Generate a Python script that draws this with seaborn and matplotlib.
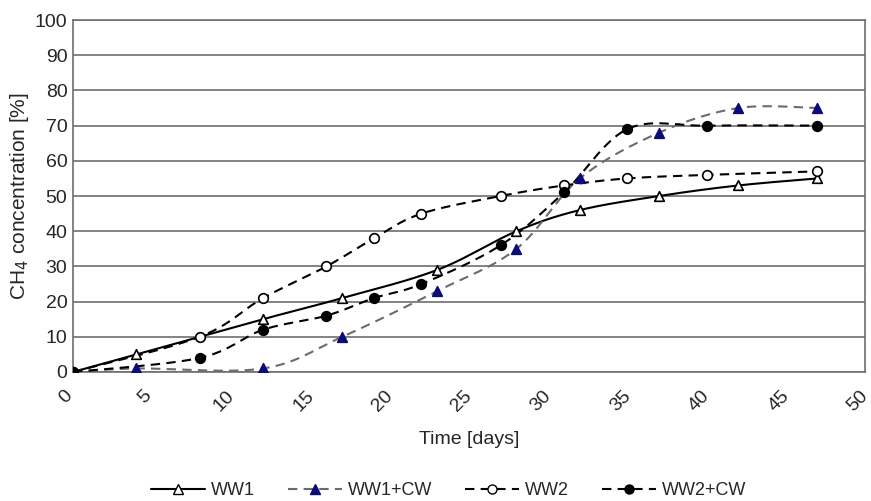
import numpy as np
import pandas as pd
import matplotlib
matplotlib.use("Agg")
import matplotlib.pyplot as plt
import matplotlib.transforms as mtransforms
from matplotlib.lines import Line2D
import seaborn as sns

# ---- data ----
ww1_days = [0, 4, 12, 17, 23, 28, 32, 37, 42, 47]
ww1_vals = [0, 5, 15, 21, 29, 40, 46, 50, 53, 55]

ww1cw_days = [0, 4, 12, 17, 23, 28, 32, 37, 42, 47]
ww1cw_vals = [0, 1, 1, 10, 23, 35, 55, 68, 75, 75]

ww2_days = [0, 8, 12, 16, 19, 22, 27, 31, 35, 40, 47]
ww2_vals = [0, 10, 21, 30, 38, 45, 50, 53, 55, 56, 57]

ww2cw_days = [0, 8, 12, 16, 19, 22, 27, 31, 35, 40, 47]
ww2cw_vals = [0, 4, 12, 16, 21, 25, 36, 51, 69, 70, 70]

series_names = ["WW1", "WW1+CW", "WW2", "WW2+CW"]
x_ticks = [0, 5, 10, 15, 20, 25, 30, 35, 40, 45, 50]
y_ticks = [0, 10, 20, 30, 40, 50, 60, 70, 80, 90, 100]


def smooth(xs, ys, n=30):
    """Excel-like smoothed line (cardinal Bezier through the points)."""
    P = np.column_stack([xs, ys]).astype(float)
    out = []
    m = len(P)
    for i in range(m - 1):
        p0 = P[i - 1] if i > 0 else P[i]
        p1 = P[i]
        p2 = P[i + 1]
        p3 = P[i + 2] if i + 2 < m else P[i + 1]
        c1 = p1 + (p2 - p0) / 6.0
        c2 = p2 - (p3 - p1) / 6.0
        t = np.linspace(0, 1, n)[:, None]
        seg = ((1 - t) ** 3) * p1 + 3 * ((1 - t) ** 2) * t * c1 + 3 * (1 - t) * t ** 2 * c2 + t ** 3 * p2
        out.append(seg if i == 0 else seg[1:])
    s = np.vstack(out)
    return s[:, 0], s[:, 1]


sns.set_style("white")
plt.rcParams["font.family"] = ["Liberation Sans", "DejaVu Sans"]

fig = plt.figure(figsize=(8.71, 5.01), dpi=100)
ax = fig.add_axes([0.0838, 0.2575, 0.9092, 0.7025])

dash = (0, (4.5, 3))
styles = [
    dict(days=ww1_days, vals=ww1_vals, color="black", ls="-", marker="^",
         mfc="white", mec="black", lw=1.5),
    dict(days=ww1cw_days, vals=ww1cw_vals, color="#6b6b6b", ls=dash, marker="^",
         mfc="#0b0b7a", mec="#0b0b7a", lw=1.5),
    dict(days=ww2_days, vals=ww2_vals, color="black", ls=dash, marker="o",
         mfc="white", mec="black", lw=1.5),
    dict(days=ww2cw_days, vals=ww2cw_vals, color="black", ls=dash, marker="o",
         mfc="black", mec="black", lw=1.5),
]

handles = []
for name, st in zip(series_names, styles):
    sx, sy = smooth(st["days"], st["vals"])
    sm = pd.DataFrame({"x": sx, "y": sy})
    sns.lineplot(data=sm, x="x", y="y", ax=ax, color=st["color"], sort=False,
                 estimator=None, lw=st["lw"], linestyle=st["ls"], zorder=3)
    pts = pd.DataFrame({"x": st["days"], "y": st["vals"]})
    sns.scatterplot(data=pts, x="x", y="y", ax=ax, marker=st["marker"], s=48,
                    facecolor=st["mfc"], edgecolor=st["mec"], linewidth=1.2, zorder=4)
    handles.append(Line2D([0], [0], color=st["color"], ls=st["ls"], lw=st["lw"],
                          marker=st["marker"], markerfacecolor=st["mfc"],
                          markeredgecolor=st["mec"], markersize=6.5, label=name))

ax.set_xlim(0, 50)
ax.set_ylim(0, 100)
ax.set_xticks(x_ticks)
ax.set_yticks(y_ticks)
ax.set_xticklabels([str(v) for v in x_ticks], rotation=45, fontsize=14)
ax.set_yticklabels([str(v) for v in y_ticks], fontsize=14)
ax.tick_params(axis="x", direction="out", length=5, width=1, color="#555555", pad=6)
ax.tick_params(axis="y", direction="out", length=3, width=1, color="#555555", pad=1)
offset = mtransforms.ScaledTranslation(-7 / 100, 0, fig.dpi_scale_trans)
for lab in ax.get_xticklabels():
    lab.set_transform(lab.get_transform() + offset)
ax.yaxis.grid(True, color="#6e6e6e", lw=1.2, zorder=0)
ax.xaxis.grid(False)
for sp in ax.spines.values():
    sp.set_color("#6e6e6e")
    sp.set_linewidth(1.2)
ax.set_xlabel("Time [days]", fontsize=14, labelpad=12)
ax.set_ylabel("CH$_4$ concentration [%]", fontsize=15, labelpad=3)

fig.legend(handles=handles, loc="center", bbox_to_anchor=(0.515, 0.02), ncol=4,
           frameon=False, fontsize=13, handlelength=3.0, columnspacing=1.85,
           handletextpad=0.3)

fig.savefig("out.png", dpi=100)
